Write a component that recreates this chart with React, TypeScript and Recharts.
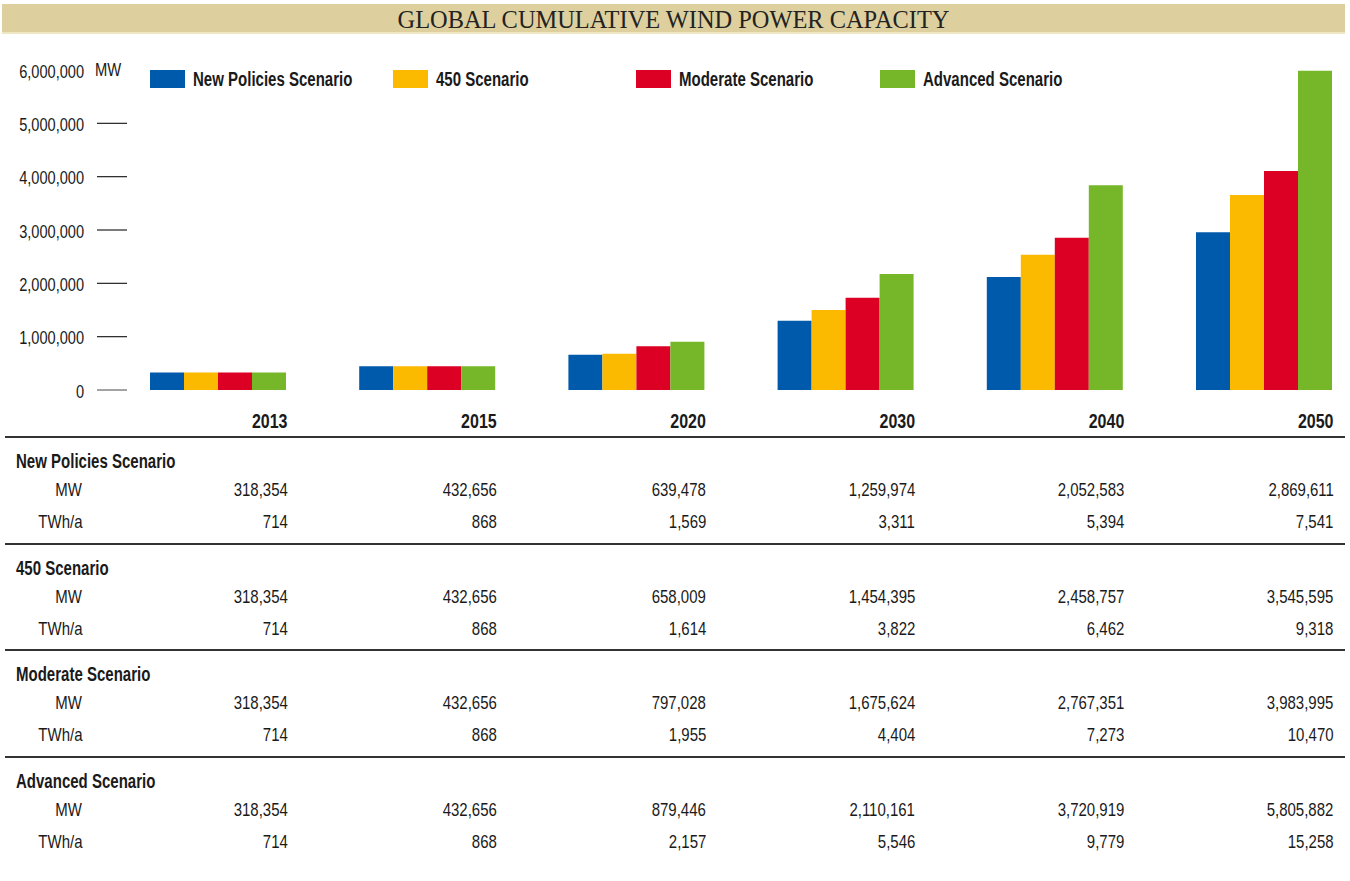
import React from "react";
import { Bar, BarChart, XAxis, YAxis } from "recharts";

const years = ["2013", "2015", "2020", "2030", "2040", "2050"];

const scenarioNames = ["New Policies Scenario", "450 Scenario", "Moderate Scenario", "Advanced Scenario"];
const scenarioKeys = ["newPolicies", "s450", "moderate", "advanced"];
const scenarioColors = ["#005aab", "#fbb900", "#dc0024", "#76b72a"];

const newPoliciesMW = [318354, 432656, 639478, 1259974, 2052583, 2869611];
const newPoliciesTWh = [714, 868, 1569, 3311, 5394, 7541];
const s450MW = [318354, 432656, 658009, 1454395, 2458757, 3545595];
const s450TWh = [714, 868, 1614, 3822, 6462, 9318];
const moderateMW = [318354, 432656, 797028, 1675624, 2767351, 3983995];
const moderateTWh = [714, 868, 1955, 4404, 7273, 10470];
const advancedMW = [318354, 432656, 879446, 2110161, 3720919, 5805882];
const advancedTWh = [714, 868, 2157, 5546, 9779, 15258];

const yTicks = [0, 1000000, 2000000, 3000000, 4000000, 5000000, 6000000];

const mwSeries = [newPoliciesMW, s450MW, moderateMW, advancedMW];
const twhSeries = [newPoliciesTWh, s450TWh, moderateTWh, advancedTWh];

const data = years.map((year, i) => {
  const row: Record<string, string | number> = { year };
  scenarioKeys.forEach((k, s) => (row[k] = mwSeries[s][i]));
  return row;
});

// no condensed face installed, so Liberation Sans gets squeezed horizontally
const SANS = '"Liberation Sans", Arial, sans-serif';
const INK = "#1a1a1a";
const SQ_REG = 0.81;
const SQ_BOLD = 0.77;
const SQ_NUM_BOLD = 0.8;
const fmt = (v: number) => v.toLocaleString("en-US");

// plot geometry (band = 209.2px, bar group = 137.5px)
const PLOT_LEFT = 114.15;
const BAND = 209.2;
const GROUP = 137.5;
const colRight = years.map((_, i) => PLOT_LEFT + (BAND - GROUP) / 2 + GROUP + i * BAND);

function SText({ x, y, sx, anchor = "start", size, bold, children }: any) {
  return (
    <text
      transform={`translate(${x},${y}) scale(${sx},1)`}
      textAnchor={anchor}
      fill={INK}
      fontSize={size}
      fontWeight={bold ? "bold" : "normal"}
      fontFamily={SANS}
    >
      {children}
    </text>
  );
}

function YTick(props: any) {
  const { y, payload } = props;
  const v = payload.value as number;
  return (
    <g>
      <SText x={84} y={y + 7.5} sx={SQ_REG} anchor="end" size={18}>
        {fmt(v)}
      </SText>
      {v === 6000000 ? (
        <SText x={95} y={y + 6} sx={0.82} size={18}>
          MW
        </SText>
      ) : (
        <line x1={97} x2={127} y1={y} y2={y} stroke={v === 0 ? "#666" : "#222"} strokeWidth={1.2} />
      )}
    </g>
  );
}

function XTick(props: any) {
  const { x, payload } = props;
  return (
    <SText x={x + GROUP / 2} y={428} sx={SQ_NUM_BOLD} anchor="end" size={20} bold>
      {payload.value}
    </SText>
  );
}

function Cell({ text, right, left, cy, bold }: { text: string; right?: number; left?: number; cy: number; bold?: boolean }) {
  const style: React.CSSProperties = {
    position: "absolute",
    top: cy - 12,
    height: 24,
    lineHeight: "24px",
    fontFamily: SANS,
    fontSize: bold ? 19.5 : 18.5,
    fontWeight: bold ? "bold" : "normal",
    color: INK,
    whiteSpace: "nowrap",
    transform: `scaleX(${bold ? SQ_BOLD : SQ_REG})`,
  };
  if (right !== undefined) {
    style.right = 1350 - right;
    style.transformOrigin = "right center";
  } else {
    style.left = left;
    style.transformOrigin = "left center";
  }
  return <div style={style}>{text}</div>;
}

export default function App() {
  const sectionTop = [436, 543, 649, 756];
  return (
    <div style={{ position: "absolute", left: 0, top: 0, width: 1350, height: 881, background: "#fff", overflow: "hidden" }}>
      <div
        style={{
          position: "absolute",
          left: 2,
          top: 4,
          width: 1343,
          height: 28,
          background: "#ddd09e",
          borderBottom: "2px solid #efe6c4",
          textAlign: "center",
          lineHeight: "31px",
          fontFamily: '"Liberation Serif", "DejaVu Serif", serif',
          fontSize: 24.4,
          color: "#222",
        }}
      >
        GLOBAL CUMULATIVE WIND POWER CAPACITY
      </div>

      {scenarioNames.map((name, s) => {
        const lx = [150, 393, 636, 880][s];
        return (
          <div key={name} style={{ position: "absolute", left: lx, top: 70, height: 18, display: "flex", alignItems: "center" }}>
            <div style={{ width: 35, height: 18, background: scenarioColors[s], flex: "none" }} />
            <span
              style={{
                marginLeft: 8,
                fontFamily: SANS,
                fontWeight: "bold",
                fontSize: 19.5,
                color: INK,
                whiteSpace: "nowrap",
                display: "inline-block",
                transform: `scaleX(${SQ_BOLD})`,
                transformOrigin: "left center",
              }}
            >
              {name}
            </span>
          </div>
        );
      })}

      <div style={{ position: "absolute", left: 0, top: 0 }}>
        <BarChart
          width={1350}
          height={440}
          data={data}
          margin={{ top: 70, left: PLOT_LEFT - 60, right: 1350 - PLOT_LEFT - BAND * 6, bottom: 10 }}
          barCategoryGap={(BAND - GROUP) / 2}
          barGap={0}
        >
          <XAxis dataKey="year" height={40} axisLine={false} tickLine={false} tick={<XTick />} interval={0} />
          <YAxis
            yAxisId="ticks"
            width={60}
            type="number"
            domain={[0, 6000000]}
            ticks={yTicks}
            allowDataOverflow
            axisLine={false}
            tickLine={false}
            tick={<YTick />}
          />
          <YAxis yAxisId="bars" hide type="number" domain={[0, 5818182]} allowDataOverflow />
          {scenarioKeys.map((k, s) => (
            <Bar key={k} yAxisId="bars" dataKey={k} fill={scenarioColors[s]} isAnimationActive={false} />
          ))}
        </BarChart>
      </div>

      {sectionTop.map((top, s) => (
        <React.Fragment key={s}>
          <div style={{ position: "absolute", left: 5, top, width: 1340, height: 1.5, background: "#333" }} />
          <Cell text={scenarioNames[s]} left={16} cy={top + 25} bold />
          <Cell text="MW" right={82} cy={top + 54} />
          <Cell text="TWh/a" right={82} cy={top + 86} />
          {years.map((y, i) => (
            <React.Fragment key={y}>
              <Cell text={fmt(mwSeries[s][i])} right={colRight[i]} cy={top + 54} />
              <Cell text={fmt(twhSeries[s][i])} right={colRight[i]} cy={top + 86} />
            </React.Fragment>
          ))}
        </React.Fragment>
      ))}
    </div>
  );
}
